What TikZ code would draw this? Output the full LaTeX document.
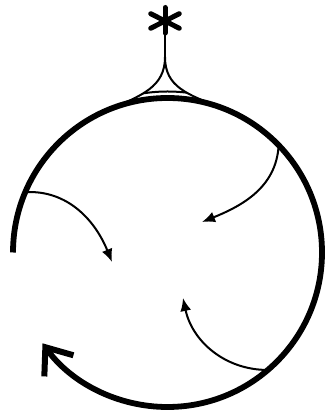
\documentclass[tikz,border=0pt]{standalone}
\usetikzlibrary{arrows.meta,calc}
\begin{document}
\begin{tikzpicture}[x=1pt,y=1pt,
  thick line/.style={line width=5.8pt},
  thin line/.style={line width=2pt},
  inner arrow/.style={thin line,-{Latex[length=13pt,width=11pt]}},
  main arrow/.style={thick line,-{Straight Barb[length=23pt,width=36pt,line width=6pt]}},
  star arm/.style={line width=5pt,line cap=round}]
\useasboundingbox (0,0) rectangle (327,414);
\coordinate (C) at (167.5,161.5);
\def\R{154.5}
% main circle arc with open arrow head
\coordinate (S) at ($(C)+(180:\R)$);
\draw[main arrow] (S) arc[start angle=180,end angle=-144,radius=\R];
% dome
\coordinate (K) at (165,357);
\coordinate (L) at ($(C)+(113:\R)$);
\coordinate (Rt) at ($(C)+(69:\R)$);
\draw[thin line] (L) .. controls ($(L)+(23:38)$) and ($(K)+(0,-30)$) .. (K)
   .. controls ($(K)+(0,-30)$) and ($(Rt)+(159:38)$) .. (Rt);
\begin{scope}
  \clip (L) .. controls ($(L)+(23:38)$) and ($(K)+(0,-30)$) .. (K)
   .. controls ($(K)+(0,-30)$) and ($(Rt)+(159:38)$) .. (Rt) -- cycle;
  \draw[thin line] ($(C)+(110:161)$) arc[start angle=110,end angle=70,radius=161];
\end{scope}
% asterisk
\coordinate (A) at (165,393);
\draw[thin line] (A) -- (K);
\draw[star arm] (A) -- ++(90:13.5);
\draw[star arm] (A) -- ++(-90:12);
\foreach \a in {27,-27,153,207}
  \draw[star arm] (A) -- ++(\a:16);
% inner arrows
\coordinate (P1) at ($(C)+(157:\R)$);
\coordinate (T1) at (112,152);
\draw[inner arrow] (P1) to[out=3,in=112] (T1);
\coordinate (P2) at ($(C)+(44:\R)$);
\coordinate (T2) at (202,192);
\draw[inner arrow] (P2) to[out=-93,in=22] (T2);
\coordinate (P3) at ($(C)+(-49.5:\R)$);
\coordinate (T3) at (183,116);
\draw[inner arrow] (P3) to[out=180,in=-78] (T3);
\end{tikzpicture}
\end{document}
